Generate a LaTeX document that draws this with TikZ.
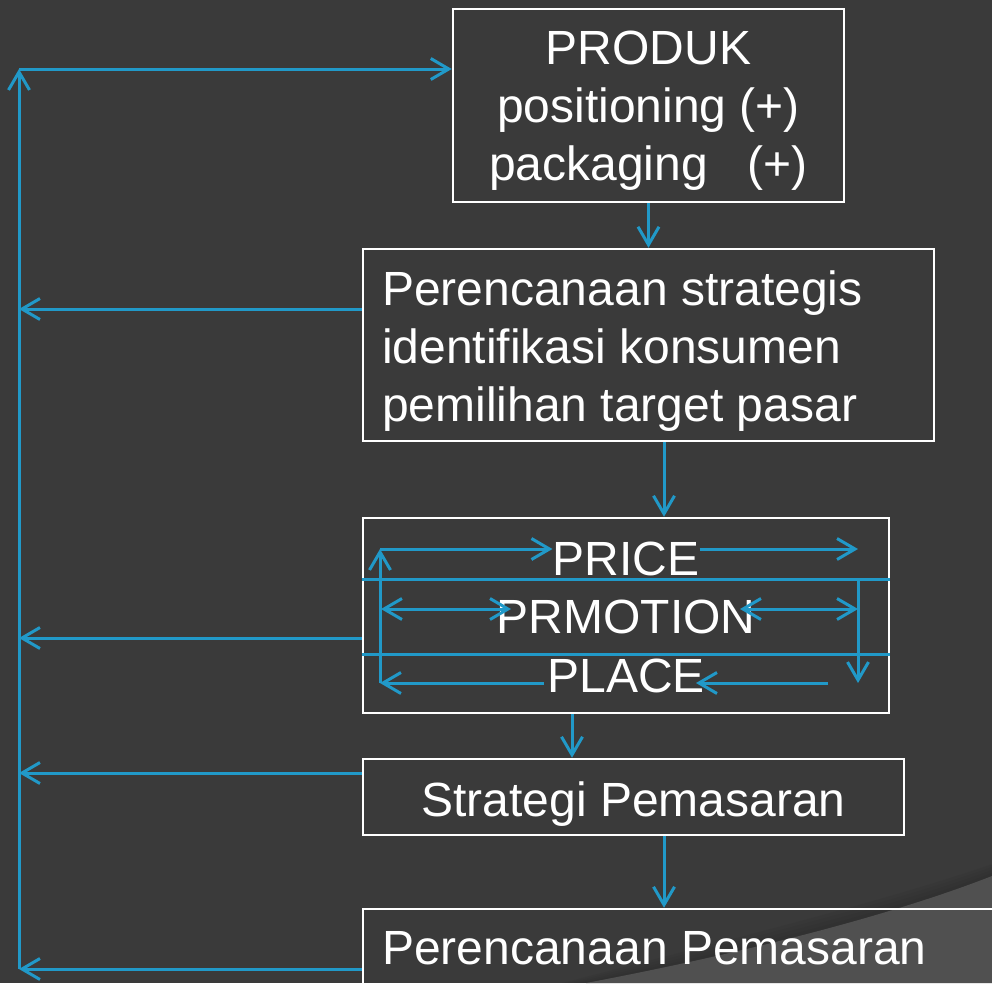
\documentclass[tikz,border=0pt]{standalone}
\usepackage{fontspec}
\setmainfont{Liberation Sans}
\usetikzlibrary{arrows.meta,calc}
\definecolor{slide}{HTML}{3A3A3A}
\definecolor{curl}{HTML}{505050}
\definecolor{flowblue}{HTML}{2199C8}
\begin{document}
\begin{tikzpicture}[x=1pt,y=-1pt,
  box/.style={draw=white, line width=2.5pt, rectangle, inner sep=0pt},
  txt/.style={text=white, inner sep=0pt, font=\fontsize{48}{58}\selectfont},
  flow/.style={draw=flowblue, line width=3pt, -{Straight Barb[length=18pt,width=21pt]}},
  twoway/.style={flow, {Straight Barb[length=18pt,width=21pt]}-{Straight Barb[length=18pt,width=21pt]}},
  divider/.style={draw=flowblue, line width=3pt}]
\useasboundingbox (0,0) rectangle (992,983);
\clip (0,0) rectangle (992,983);
% slide background with the lighter corner and its soft shadow
\fill[slide] (0,0) rectangle (992,983);
\foreach \d in {12,9,6,3}
  \fill[black, opacity=0.035] (586-2*\d,983) .. controls (760-2*\d,950-\d) and (900-\d,912-\d) .. (992,876-\d) -- (992,983) -- cycle;
\fill[curl] (586,983) .. controls (760,950) and (900,912) .. (992,876) -- (992,983) -- cycle;

% boxes
\node[box, minimum width=391pt, minimum height=193pt] (prod)  at (648.5,105.5) {};
\node[box, minimum width=571pt, minimum height=192pt] (plan)  at (648.5,345) {};
\node[box, minimum width=526pt, minimum height=195pt] (mix)   at (626,615.5) {};
\node[box, minimum width=541pt, minimum height=76pt]  (strat) at (633.5,797) {};
\node[box, minimum width=700pt, minimum height=120pt] (pm)    at (713,969) {};

% texts
\node[txt, anchor=base] (prodA) at (648.5,64)  {PRODUK};
\node[txt, anchor=base] (prodB) at (648.5,122) {positioning (+)};
\node[txt, anchor=base] (prodC) at (648.5,180) {packaging\ \ \ (+)};

\node[txt, anchor=base west] (planA) at (382,305) {Perencanaan strategis};
\node[txt, anchor=base west] (planB) at (382,363) {identifikasi konsumen};
\node[txt, anchor=base west] (planC) at (382,421) {pemilihan target pasar};

\node[txt, anchor=base] (price) at (626,575) {PRICE};
\node[txt, anchor=base] (promo) at (626,633) {PRMOTION};
\node[txt, anchor=base] (place) at (626,692) {PLACE};

\node[txt, anchor=base] (stratT) at (633.5,816) {Strategi Pemasaran};
\node[txt, anchor=base west] (pmT) at (382,964) {Perencanaan Pemasaran};

% downward flow between boxes
\draw[flow] (prod.south) -- (plan.north);
\draw[flow] ([xshift=15.5pt]plan.south) -- ([xshift=15.5pt]plan.south |- mix.north);
\draw[flow] ([xshift=-54pt]mix.south) -- ([xshift=-54pt]mix.south |- strat.north);
\draw[flow] ([xshift=30.5pt]strat.south) -- ([xshift=30.5pt]strat.south |- pm.north);

% feedback rail on the left
\coordinate (railtop) at (19,69);
\coordinate (railbot) at (19,969);
\draw[flow] (railbot) -- (railtop);
\draw[flow] (railtop) -- (prod.west |- railtop);
\draw[flow] ([yshift=36pt]plan.west) -- ([yshift=36pt]plan.west -| railtop);
\draw[flow] ([yshift=-22.5pt]mix.west) -- ([yshift=-22.5pt]mix.west -| railtop);
\draw[flow] ([yshift=24pt]strat.west) -- ([yshift=24pt]strat.west -| railtop);
\draw[flow] (pm.west) -- (railbot);

% marketing mix cycle
\coordinate (ptl) at (380,549);
\coordinate (pbl) at (380,683);
\coordinate (ptr) at (858,549);
\coordinate (prt) at (858,579);
\coordinate (prb) at (858,683);
\coordinate (cutB) at (380,654);
\coordinate (mL)  at (381,609);
\coordinate (mLi) at (511,609);
\coordinate (mRi) at (740,609);
\coordinate (mR)  at (858,609);
\coordinate (bRa) at (828,683);
\coordinate (bRb) at (696,683);
\coordinate (bLa) at (544,683);

\draw[divider] (mix.west |- prt) -- (mix.east |- prt);
\draw[divider] (mix.west |- cutB) -- (mix.east |- cutB);
\draw[flow] (pbl) -- (ptl);
\draw[flow] (ptl) -- (ptl -| price.west);
\draw[flow] (price.east |- ptl) -- (ptr);
\draw[flow] (prt) -- (prb);
\draw[twoway] (mL) -- (mLi);
\draw[twoway] (mRi) -- (mR);
\draw[flow] (bRa) -- (bRb);
\draw[flow] (bLa) -- (pbl);
\end{tikzpicture}
\end{document}
